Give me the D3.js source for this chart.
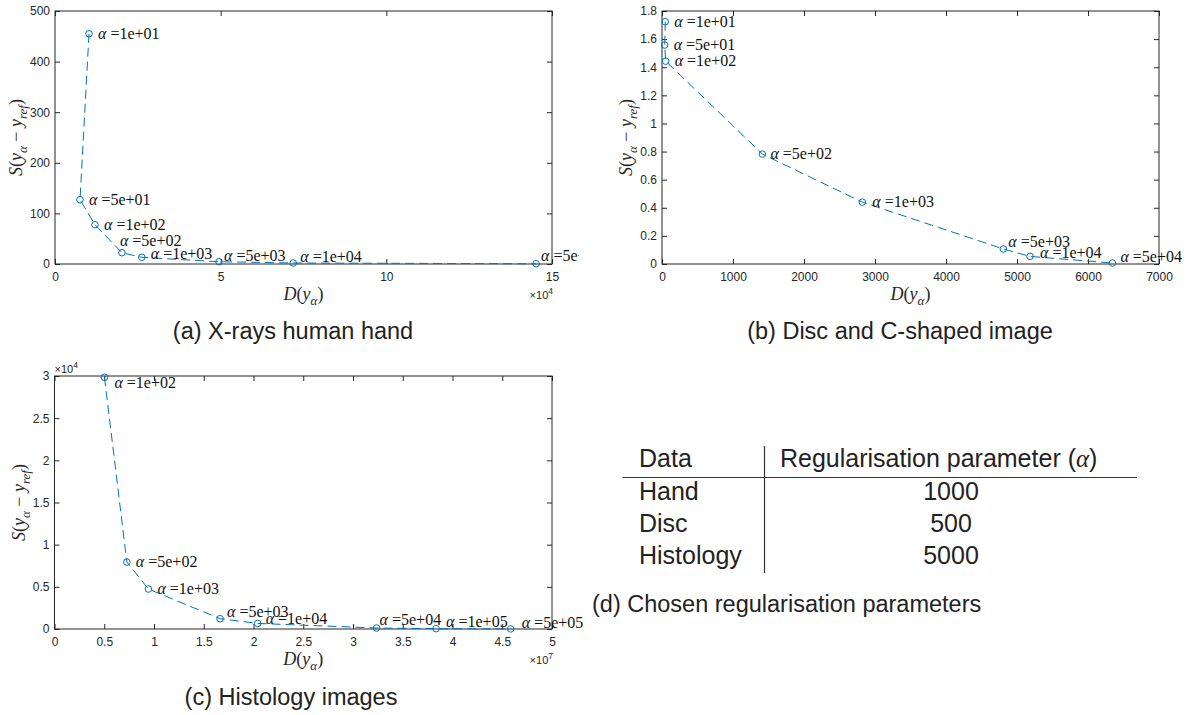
<!DOCTYPE html>
<html>
<head>
<meta charset="utf-8">
<script src="https://cdn.jsdelivr.net/npm/d3@7"></script>
<style>
  body { margin: 0; background: #fff; }
  svg { display: block; }
</style>
</head>
<body>
<svg id="fig" width="1187" height="715"></svg>
<script>
// ---- (a) X-rays human hand ----
const handAlpha = [1e1, 5e1, 1e2, 5e2, 1e3, 5e3, 1e4, 5e4];
const handD = [1.026e4, 0.755e4, 1.207e4, 2.02e4, 2.62e4, 4.95e4, 7.19e4, 14.52e4];
const handS = [455, 127, 77.7, 22.3, 13.2, 4.5, 2.0, 0.5];
const handXTicks = [0, 5e4, 10e4, 15e4];
const handYTicks = [0, 100, 200, 300, 400, 500];

// ---- (b) Disc and C-shaped image ----
const discAlpha = [1e1, 5e1, 1e2, 5e2, 1e3, 5e3, 1e4, 5e4];
const discD = [46, 38, 52, 1414, 2822, 4808, 5183, 6344];
const discS = [1.724, 1.558, 1.443, 0.782, 0.44, 0.107, 0.054, 0.007];
const discXTicks = [0, 1000, 2000, 3000, 4000, 5000, 6000, 7000];
const discYTicks = [0, 0.2, 0.4, 0.6, 0.8, 1, 1.2, 1.4, 1.6, 1.8];

// ---- (c) Histology images ----
const histAlpha = [1e2, 5e2, 1e3, 5e3, 1e4, 5e4, 1e5, 5e5];
const histD = [0.502e7, 0.727e7, 0.944e7, 1.664e7, 2.042e7, 3.237e7, 3.835e7, 4.585e7];
const histS = [2.985e4, 0.794e4, 0.474e4, 0.122e4, 0.066e4, 0.012e4, 0.004e4, 0.001e4];
const histXTicks = [0, 0.5e7, 1e7, 1.5e7, 2e7, 2.5e7, 3e7, 3.5e7, 4e7, 4.5e7, 5e7];
const histYTicks = [0, 0.5e4, 1e4, 1.5e4, 2e4, 2.5e4, 3e4];

// ---- (d) chosen parameters ----
const tableData = ["Hand", "Disc", "Histology"];
const tableAlpha = [1000, 500, 5000];

const SANS = "'Liberation Sans', Arial, Helvetica, sans-serif";
const SERIF = "'Liberation Serif', 'Times New Roman', serif";
const AXIS = "#262626";
const BLUE = "#0072BD";
const LABEL_SIZE = 16;
const AXLABEL_SIZE = 18;

const svg = d3.select("#fig");

// alpha as MATLAB-style %.0e text, e.g. 1e+01
function alphaText(a) {
  const e = Math.floor(Math.log10(a) + 1e-9);
  const m = Math.round(a / Math.pow(10, e));
  return m + "e+" + String(e).padStart(2, "0");
}

// Write a small math expression as tspans (italic / subscript parts)
function mathText(text, parts, size) {
  let low = false;
  const drop = size * 0.25;
  parts.forEach(p => {
    const ts = text.append("tspan").text(p.t);
    if (p.i) ts.attr("font-style", "italic");
    if (p.sub) {
      ts.attr("font-size", size * 0.72);
      if (!low) { ts.attr("dy", drop); low = true; }
    } else if (low) {
      ts.attr("dy", -drop); low = false;
    }
  });
}

const xLabelParts = [{t: "D", i: 1}, {t: "("}, {t: "y", i: 1}, {t: "α", i: 1, sub: 1}, {t: ")"}];
const yLabelParts = [{t: "S", i: 1}, {t: "("}, {t: "y", i: 1}, {t: "α", i: 1, sub: 1},
                     {t: " − "}, {t: "y", i: 1}, {t: "ref", i: 1, sub: 1}, {t: ")"}];

const panels = [
  {
    D: handD, S: handS, alpha: handAlpha, xTicks: handXTicks, yTicks: handYTicks,
    xDomain: [0, 15e4], yDomain: [0, 500], xDiv: 1e4, yDiv: 1,
    box: {l: 55, r: 552, t: 11, b: 264},
    nudge: [[9, 0], [9, 0], [9, 0], [-2, -12], [9, -3], [5, -6], [7, -6], [5, -8]],
    clipW: 579, xExp: "4", yExp: null,
    yLabelX: 16, caption: "(a) X-rays human hand", capX: 293, capY: 339
  },
  {
    D: discD, S: discS, alpha: discAlpha, xTicks: discXTicks, yTicks: discYTicks,
    xDomain: [0, 7000], yDomain: [0, 1.8], xDiv: 1, yDiv: 1,
    box: {l: 662, r: 1159, t: 11, b: 264},
    nudge: [[9, 0], [9, 0], [9, 0], [8, 0], [10, 0], [5, -7], [10, -4], [8, -6]],
    clipW: null, xExp: null, yExp: null,
    yLabelX: 626, caption: "(b) Disc and C-shaped image", capX: 900, capY: 339
  },
  {
    D: histD, S: histS, alpha: histAlpha, xTicks: histXTicks, yTicks: histYTicks,
    xDomain: [0, 5e7], yDomain: [0, 3e4], xDiv: 1e7, yDiv: 1e4,
    box: {l: 54.5, r: 552, t: 376, b: 629},
    nudge: [[10, 6], [9, 0], [9, 0], [7, -7], [8, -5], [3, -8], [10, -7], [11, -6]],
    clipW: null, xExp: "7", yExp: "4",
    yLabelX: 19, caption: "(c) Histology images", capX: 291, capY: 705
  }
];

const fmt = d3.format("~g");

panels.forEach((p, idx) => {
  let g = svg.append("g");
  if (p.clipW) {
    svg.append("clipPath").attr("id", "clip" + idx)
      .append("rect").attr("x", 0).attr("y", 0).attr("width", p.clipW).attr("height", 715);
    g.attr("clip-path", `url(#clip${idx})`);
  }
  const b = p.box;
  const x = d3.scaleLinear().domain(p.xDomain).range([b.l, b.r]);
  const y = d3.scaleLinear().domain(p.yDomain).range([b.b, b.t]);

  const styleAxis = sel => {
    sel.select(".domain").remove();
    sel.selectAll(".tick line").attr("stroke", AXIS);
    sel.selectAll(".tick text").attr("fill", AXIS).attr("font-family", SANS).attr("font-size", 12);
  };

  g.append("g").attr("transform", `translate(0,${b.b})`)
    .call(d3.axisBottom(x).tickValues(p.xTicks).tickSizeInner(-5).tickSizeOuter(0)
      .tickPadding(8.5).tickFormat(v => fmt(v / p.xDiv)))
    .call(styleAxis);
  g.append("g").attr("transform", `translate(0,${b.t})`)
    .call(d3.axisTop(x).tickValues(p.xTicks).tickSizeInner(-5).tickSizeOuter(0).tickFormat(""))
    .call(styleAxis);
  g.append("g").attr("transform", `translate(${b.l},0)`)
    .call(d3.axisLeft(y).tickValues(p.yTicks).tickSizeInner(-5).tickSizeOuter(0)
      .tickPadding(5).tickFormat(v => fmt(+(v / p.yDiv).toFixed(6))))
    .call(styleAxis);
  g.append("g").attr("transform", `translate(${b.r},0)`)
    .call(d3.axisRight(y).tickValues(p.yTicks).tickSizeInner(-5).tickSizeOuter(0).tickFormat(""))
    .call(styleAxis);

  g.append("rect")
    .attr("x", b.l).attr("y", b.t).attr("width", b.r - b.l).attr("height", b.b - b.t)
    .attr("fill", "none").attr("stroke", AXIS).attr("stroke-width", 1);

  // exponent multipliers
  const mult = (gx, gy, anchor, exp) => {
    const t = g.append("text").attr("x", gx).attr("y", gy).attr("text-anchor", anchor)
      .attr("font-family", SANS).attr("font-size", 11).attr("fill", AXIS);
    t.append("tspan").text("×10");
    t.append("tspan").attr("dy", -5).attr("font-size", 8.5).text(exp);
  };
  if (p.xExp) mult(b.r + 1, b.b + 35, "end", p.xExp);
  if (p.yExp) mult(b.l, b.t - 3.5, "start", p.yExp);

  // axis labels
  const xl = g.append("text").attr("x", (b.l + b.r) / 2).attr("y", b.b + 36)
    .attr("text-anchor", "middle").attr("font-family", SERIF).attr("font-size", AXLABEL_SIZE).attr("fill", AXIS);
  mathText(xl, xLabelParts, AXLABEL_SIZE);
  const yl = g.append("text")
    .attr("transform", `translate(${p.yLabelX + 6},${(b.t + b.b) / 2}) rotate(-90)`)
    .attr("text-anchor", "middle").attr("font-family", SERIF).attr("font-size", AXLABEL_SIZE).attr("fill", AXIS);
  mathText(yl, yLabelParts, AXLABEL_SIZE);

  // curve
  const pts = p.D.map((d, i) => ({d, s: p.S[i], a: p.alpha[i], n: p.nudge[i]}));
  g.append("path").datum(pts)
    .attr("d", d3.line().x(o => x(o.d)).y(o => y(o.s)))
    .attr("fill", "none").attr("stroke", BLUE).attr("stroke-width", 1)
    .attr("stroke-dasharray", "9,5");
  g.selectAll("circle.pt").data(pts).join("circle").attr("class", "pt")
    .attr("cx", o => x(o.d)).attr("cy", o => y(o.s)).attr("r", 3.3)
    .attr("fill", "none").attr("stroke", BLUE).attr("stroke-width", 1);

  g.selectAll("text.lab").data(pts).join("text").attr("class", "lab")
    .attr("x", o => x(o.d) + o.n[0]).attr("y", o => y(o.s) + o.n[1])
    .attr("dy", "0.32em").attr("font-family", SERIF).attr("font-size", LABEL_SIZE).attr("fill", "#111")
    .each(function (o) {
      const t = d3.select(this);
      t.append("tspan").attr("font-style", "italic").text("α");
      t.append("tspan").text(" =" + alphaText(o.a));
    });

  svg.append("text").attr("x", p.capX).attr("y", p.capY).attr("text-anchor", "middle")
    .attr("font-family", SANS).attr("font-size", 23.5).attr("fill", "#222").text(p.caption);
});

// ---- (d) table ----
const tg = svg.append("g");
const rowY = d3.scalePoint().domain(tableData).range([500, 564]);
const tFont = 25;
tg.append("text").attr("x", 639).attr("y", 466.7).attr("font-family", SANS)
  .attr("font-size", tFont).attr("fill", "#222").text("Data");
const hdr = tg.append("text").attr("x", 780).attr("y", 466.7).attr("font-family", SANS)
  .attr("font-size", tFont).attr("fill", "#222");
hdr.append("tspan").text("Regularisation parameter (");
hdr.append("tspan").attr("font-family", SERIF).attr("font-style", "italic").text("α");
hdr.append("tspan").text(")");
tg.selectAll("text.row").data(tableData).join("text").attr("class", "row")
  .attr("x", 639).attr("y", d => rowY(d)).attr("font-family", SANS)
  .attr("font-size", tFont).attr("fill", "#222").text(d => d);
tg.selectAll("text.val").data(tableAlpha).join("text").attr("class", "val")
  .attr("x", 951).attr("y", (d, i) => rowY(tableData[i])).attr("text-anchor", "middle")
  .attr("font-family", SANS).attr("font-size", tFont).attr("fill", "#222").text(d => d);
tg.append("line").attr("x1", 622.5).attr("x2", 1137).attr("y1", 477.5).attr("y2", 477.5)
  .attr("stroke", "#333").attr("stroke-width", 1.2);
tg.append("line").attr("x1", 764.5).attr("x2", 764.5).attr("y1", 446).attr("y2", 573)
  .attr("stroke", "#333").attr("stroke-width", 1.2);
svg.append("text").attr("x", 592).attr("y", 612).attr("font-family", SANS)
  .attr("font-size", 23.5).attr("fill", "#222").text("(d) Chosen regularisation parameters");
</script>
</body>
</html>
